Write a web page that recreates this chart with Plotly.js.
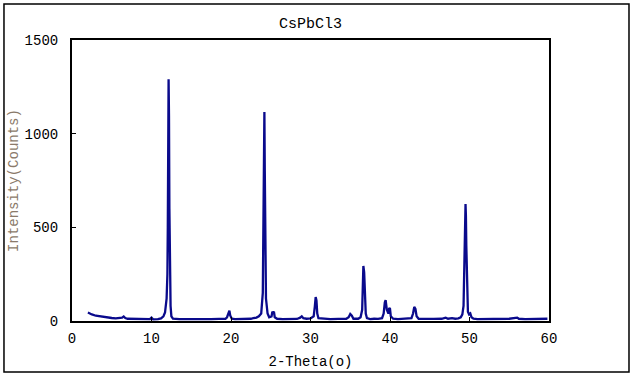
<!DOCTYPE html>
<html>
<head>
<meta charset="utf-8">
<script src="https://cdn.plot.ly/plotly-3.0.1.min.js"></script>
<style>html,body{margin:0;padding:0;background:#fff;}#chart{width:633px;height:378px;}</style>
</head>
<body>
<div id="chart"></div>
<script>
const chartTitle = "CsPbCl3";
const xTitle = "2-Theta(o)";
const yTitle = "Intensity(Counts)";
const xTickVals = [0, 10, 20, 30, 40, 50, 60];
const yTickVals = [0, 500, 1000, 1500];

const twoTheta = [2.0,2.2,2.5,3.0,3.5,4.0,4.5,5.0,5.5,6.0,6.3,6.5,6.7,7.0,8.0,9.0,9.8,10.0,10.2,10.8,11.2,11.5,11.7,11.9,12.0,12.05,12.1,12.15,12.2,12.25,12.3,12.4,12.5,12.7,13.5,14.5,15.5,16.5,17.5,18.5,19.3,19.5,19.7,19.8,19.9,20.1,20.5,21.5,22.5,22.8,23.2,23.5,23.8,24.0,24.1,24.15,24.2,24.25,24.3,24.4,24.6,24.8,25.1,25.2,25.3,25.4,25.5,25.8,26.5,27.5,28.3,28.7,28.9,29.1,29.5,30.0,30.4,30.55,30.65,30.75,30.85,31.0,31.5,32.5,33.5,34.5,34.8,35.0,35.2,35.4,36.0,36.3,36.5,36.6,36.65,36.75,36.85,36.95,37.1,37.5,38.0,38.5,39.0,39.2,39.35,39.45,39.6,39.8,39.9,40.0,40.1,40.4,41.0,42.0,42.7,42.9,43.05,43.2,43.35,43.6,44.5,45.5,46.5,47.0,47.3,47.8,48.2,48.6,48.9,49.1,49.25,49.35,49.45,49.5,49.55,49.6,49.7,49.8,49.95,50.1,50.25,50.5,51.0,52.0,53.0,54.0,55.0,56.0,56.2,57.0,58.0,59.0,59.5,59.8];
const intensity = [45,40,35,28,24,20,18,16,14,15,18,24,16,12,10,9,10,18,9,10,14,25,45,120,250,500,900,1290,1100,600,300,80,25,12,10,9,10,9,10,11,12,20,50,55,30,12,10,10,12,15,18,25,40,150,500,900,1115,800,400,120,40,20,25,50,45,50,20,12,10,10,11,18,25,15,12,14,25,80,128,110,40,15,12,10,11,12,20,37,28,12,12,20,60,200,294,260,110,40,15,10,12,11,15,40,100,112,60,40,70,65,25,12,10,11,15,40,75,65,25,12,10,11,12,18,12,15,12,14,20,35,80,300,500,625,560,400,150,50,35,40,20,12,10,10,11,10,12,18,12,10,11,12,15,12];

const FONT = "Liberation Mono, DejaVu Sans Mono, monospace";

const trace = {
  x: twoTheta, y: intensity, type: "scatter", mode: "lines",
  line: {color: "#0a0a8c", width: 2.3}, hoverinfo: "skip"
};

const layout = {
  width: 633, height: 378,
  margin: {l: 72, r: 84, t: 40, b: 57},
  paper_bgcolor: "#ffffff", plot_bgcolor: "#ffffff",
  showlegend: false,
  title: {text: chartTitle, x: 0.5, xref: "paper", y: 0.94, yref: "container", yanchor: "middle",
          font: {family: FONT, size: 15, color: "#000"}},
  xaxis: {
    range: [0, 60], tickvals: xTickVals, ticks: "inside", ticklen: 4, tickcolor: "#000",
    showline: true, linecolor: "#000", linewidth: 2, mirror: true, showgrid: false, zeroline: false,
    tickfont: {family: FONT, size: 14, color: "#000"}, ticklabelstandoff: 3,
    title: {text: xTitle, font: {family: FONT, size: 14, color: "#000"}, standoff: 10}
  },
  yaxis: {
    range: [0, 1500], tickvals: yTickVals, ticks: "inside", ticklen: 4, tickcolor: "#000",
    showline: true, linecolor: "#000", linewidth: 2, mirror: true, showgrid: false, zeroline: false,
    tickfont: {family: FONT, size: 14, color: "#000"}, ticklabelstandoff: 9,
    title: {text: yTitle, font: {family: FONT, size: 14, color: "#8a7a6a"}, standoff: 3}
  },
  shapes: [{
    type: "rect", xref: "paper", yref: "paper",
    x0: -0.1426, x1: 1.1677, y0: -0.1815, y1: 1.128,
    line: {color: "#000", width: 1.5}, fillcolor: "rgba(0,0,0,0)", layer: "below"
  }]
};

Plotly.newPlot("chart", [trace], layout, {displayModeBar: false, staticPlot: true});
</script>
</body>
</html>
